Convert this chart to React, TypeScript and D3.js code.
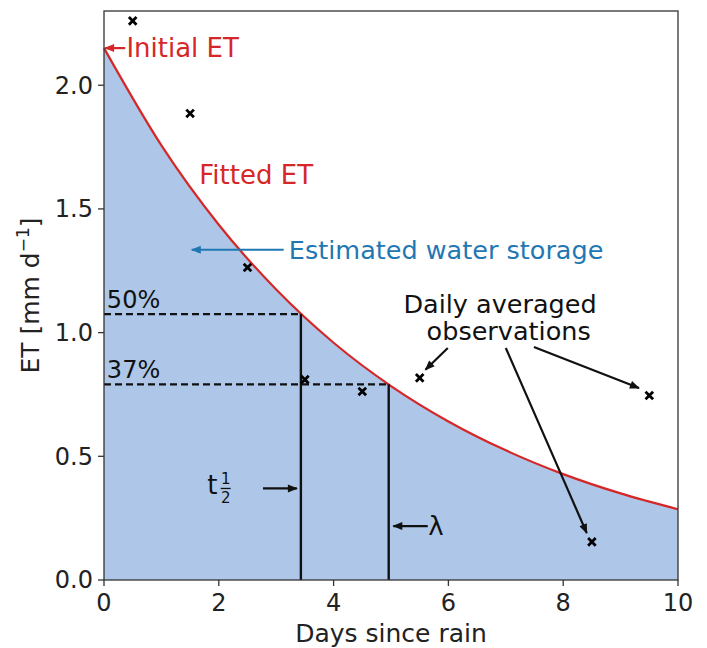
import React from "react";
import * as d3 from "d3";

// fitted ET curve at each day
const curveDays = [0, 1, 2, 3, 4, 5, 6, 7, 8, 9, 10];
const curveET = [2.15, 1.757, 1.436, 1.174, 0.959, 0.784, 0.641, 0.524, 0.428, 0.35, 0.286];

// daily averaged observations
const obsDays = [0.5, 1.5, 2.5, 3.5, 4.5, 5.5, 8.5, 9.5];
const obsET = [2.26, 1.886, 1.263, 0.81, 0.762, 0.817, 0.154, 0.746];

const initialET = 2.15;
const tHalf = 3.43;
const lambda = 4.96;

const xTicks = [0, 2, 4, 6, 8, 10];
const yTicks = [0, 0.5, 1.0, 1.5, 2.0];

const App = () => {
  const width = 707;
  const height = 648;
  const margin = { top: 11, right: 29, bottom: 68, left: 104 };

  const x = d3.scaleLinear().domain([0, 10]).range([margin.left, width - margin.right]);
  const y = d3.scaleLinear().domain([0, 2.3]).range([height - margin.bottom, margin.top]);

  const pts = curveDays.map((d, i) => ({ d, v: curveET[i] }));
  const line = d3.line<any>().x((p) => x(p.d)).y((p) => y(p.v)).curve(d3.curveMonotoneX);
  const area = d3.area<any>().x((p) => x(p.d)).y0(y(0)).y1((p) => y(p.v)).curve(d3.curveMonotoneX);

  const red = "#d62728";
  const blue = "#1f77b4";
  const font = "DejaVu Sans, sans-serif";
  const half = initialET * 0.5;
  const e37 = initialET * Math.exp(-1);

  const arrow = (x1, y1, x2, y2, color, id) => (
    <line x1={x(x1)} y1={y(y1)} x2={x(x2)} y2={y(y2)} stroke={color} strokeWidth={2.2} markerEnd={`url(#${id})`} />
  );

  return (
    <svg width={width} height={height} style={{ position: "absolute", left: 0, top: 0, background: "#fff" }} fontFamily={font}>
      <defs>
        {[["hk", "#111"], ["hr", red], ["hb", blue]].map(([id, c]) => (
          <marker key={id} id={id} viewBox="0 0 10 10" refX="9" refY="5" markerWidth="12" markerHeight="10" markerUnits="userSpaceOnUse" orient="auto">
            <path d="M0,1 L10,5 L0,9 z" fill={c} />
          </marker>
        ))}
      </defs>

      <path d={area(pts) || ""} fill="#aec7e8" />
      <path d={line(pts) || ""} fill="none" stroke={red} strokeWidth={2.2} />

      {/* half-life and e-folding guides */}
      <line x1={x(0)} x2={x(tHalf)} y1={y(half)} y2={y(half)} stroke="#111" strokeWidth={2.2} strokeDasharray="7,4" />
      <line x1={x(0)} x2={x(lambda)} y1={y(e37)} y2={y(e37)} stroke="#111" strokeWidth={2.2} strokeDasharray="7,4" />
      <line x1={x(tHalf)} x2={x(tHalf)} y1={y(half)} y2={y(0)} stroke="#111" strokeWidth={2.4} />
      <line x1={x(lambda)} x2={x(lambda)} y1={y(e37)} y2={y(0)} stroke="#111" strokeWidth={2.4} />

      {/* observations */}
      {obsDays.map((d, i) => {
        const cx = x(d), cy = y(obsET[i]), s = 3.8;
        return (
          <path key={i} d={`M${cx - s},${cy - s}L${cx + s},${cy + s}M${cx - s},${cy + s}L${cx + s},${cy - s}`} stroke="#000" strokeWidth={2.8} />
        );
      })}

      {/* frame */}
      <rect x={margin.left} y={margin.top} width={width - margin.left - margin.right} height={height - margin.top - margin.bottom} fill="none" stroke="#333" strokeWidth={1.3} />

      {/* axes ticks */}
      {xTicks.map((t) => (
        <g key={t} transform={`translate(${x(t)},${y(0)})`}>
          <line y2={6} stroke="#333" strokeWidth={1.3} />
          <text y={31} textAnchor="middle" fontSize={24} fill="#222">{t}</text>
        </g>
      ))}
      {yTicks.map((t) => (
        <g key={t} transform={`translate(${x(0)},${y(t)})`}>
          <line x2={-6} stroke="#333" strokeWidth={1.3} />
          <text x={-11} dy="0.35em" textAnchor="end" fontSize={24} fill="#222">{t.toFixed(1)}</text>
        </g>
      ))}
      <text x={(x(0) + x(10)) / 2} y={642} textAnchor="middle" fontSize={25} fill="#222">Days since rain</text>
      <text transform={`translate(39,${y(1.15)}) rotate(-90)`} textAnchor="middle" fontSize={25} fill="#222">
        ET [mm d<tspan dy="-10" fontSize={17}>−1</tspan><tspan dy="10">]</tspan>
      </text>

      {/* annotations */}
      {arrow(0.37, initialET, 0.02, initialET, red, "hr")}
      <text x={x(0.39)} y={y(initialET)} dy="0.35em" fontSize={26} fill={red}>Initial ET</text>
      <text x={x(1.66)} y={y(1.636)} dy="0.35em" fontSize={26} fill={red}>Fitted ET</text>

      {arrow(3.13, 1.335, 1.53, 1.335, blue, "hb")}
      <text x={x(3.22)} y={y(1.335)} dy="0.35em" fontSize={25.5} fill={blue}>Estimated water storage</text>

      <text x={x(0.05)} y={y(half) - 6} fontSize={24} fill="#111">50%</text>
      <text x={x(0.05)} y={y(e37) - 6} fontSize={24} fill="#111">37%</text>

      {arrow(2.77, 0.37, 3.36, 0.37, "#111", "hk")}
      <text x={x(1.8)} y={y(0.37)} dy="0.2em" fontSize={26} fill="#111">t</text>
      <text x={x(2.12)} y={y(0.37) - 4} textAnchor="middle" fontSize={15} fill="#111">1</text>
      <line x1={x(2.12) - 5} x2={x(2.12) + 5} y1={y(0.37)} y2={y(0.37)} stroke="#111" strokeWidth={1.3} />
      <text x={x(2.12)} y={y(0.37) + 15} textAnchor="middle" fontSize={15} fill="#111">2</text>

      {arrow(5.64, 0.218, 5.04, 0.218, "#111", "hk")}
      <text x={x(5.65)} y={y(0.218)} dy="0.35em" fontSize={26} fill="#111">λ</text>

      <text x={x(6.9)} y={y(1.08)} textAnchor="middle" fontSize={25.5} fill="#111">Daily averaged</text>
      <text x={x(7.05)} y={y(0.97)} textAnchor="middle" fontSize={25.5} fill="#111">observations</text>
      {arrow(5.99, 0.938, 5.6, 0.85, "#111", "hk")}
      {arrow(7.0, 0.938, 8.41, 0.19, "#111", "hk")}
      {arrow(7.49, 0.942, 9.32, 0.776, "#111", "hk")}
    </svg>
  );
};

export default App;
